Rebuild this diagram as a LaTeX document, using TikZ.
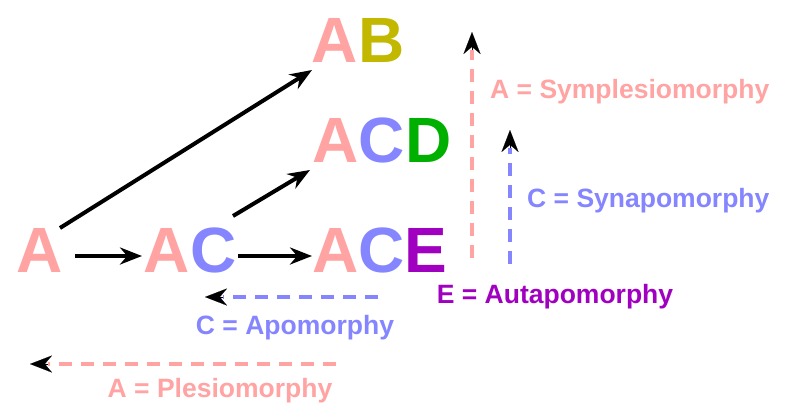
\documentclass[tikz,border=0pt]{standalone}
\usepackage{fontspec}
\setmainfont{Liberation Sans}
\usetikzlibrary{arrows.meta}
\definecolor{pk}{HTML}{FFA3A3}
\definecolor{bl}{HTML}{8585FF}
\definecolor{ol}{HTML}{C2B800}
\definecolor{gr}{HTML}{00B000}
\definecolor{pu}{HTML}{A000C0}
\tikzset{big/.style={font=\fontsize{64}{64}\selectfont\bfseries, inner sep=0pt, anchor=base},
lab/.style={font=\fontsize{26.5}{26.5}\selectfont\bfseries, inner sep=0pt},
tip/.style={-{Stealth[length=22pt,width=17pt]}},
arr/.style={line width=4pt,tip},
darr/.style={line width=4pt,dash pattern=on 13pt off 9pt},
hd/.style={tip,line width=0.1pt,black}}
\begin{document}
\begin{tikzpicture}[x=1pt,y=-1pt]
\useasboundingbox (0,0) rectangle (800,418);
\node[big] (a) at (40,272) {\textcolor{pk}{A}};
\node[big] (ac) at (190,272) {\textcolor{pk}{A}\textcolor{bl}{C}};
\node[big] (ace) at (380,272) {\textcolor{pk}{A}\textcolor{bl}{C}\textcolor{pu}{E}};
\node[big] (acd) at (382,162) {\textcolor{pk}{A}\textcolor{bl}{C}\textcolor{gr}{D}};
\node[big] (ab) at (358,62) {\textcolor{pk}{A}\textcolor{ol}{B}};
\coordinate (p1) at (75,256); \coordinate (p2) at (142,256);
\coordinate (p3) at (238,256); \coordinate (p4) at (312,256);
\coordinate (p5) at (233,216); \coordinate (p6) at (310,170);
\coordinate (p7) at (60,228); \coordinate (p8) at (312,70);
\draw[arr] (p1) -- (p2);
\draw[arr] (p3) -- (p4);
\draw[arr] (p5) -- (p6);
\draw[arr] (p7) -- (p8);
\coordinate (s1) at (472,258); \coordinate (s2) at (472,32); \coordinate (s3) at (472,50);
\draw[darr,pk] (s1) -- (s3);
\draw[hd] (s3) -- (s2);
\node[lab,pk,anchor=west] (l1) at (490,92) {A = Symplesiomorphy};
\coordinate (y1) at (510,264); \coordinate (y2) at (510,130); \coordinate (y3) at (510,148);
\draw[darr,bl] (y1) -- (y3);
\draw[hd] (y3) -- (y2);
\node[lab,bl,anchor=west] (l2) at (527,201) {C = Synapomorphy};
\coordinate (h1) at (378,297); \coordinate (h2) at (205,297); \coordinate (h3) at (223,297);
\draw[darr,bl] (h1) -- (h3);
\draw[hd] (h3) -- (h2);
\node[lab,bl] (l3) at (295,328) {C = Apomorphy};
\node[lab,pu] (l4) at (555,297) {E = Autapomorphy};
\coordinate (g1) at (336,364); \coordinate (g2) at (30,364); \coordinate (g3) at (48,364);
\draw[darr,pk] (g1) -- (g3);
\draw[hd] (g3) -- (g2);
\node[lab,pk] (l5) at (220,391) {A = Plesiomorphy};
\end{tikzpicture}
\end{document}
